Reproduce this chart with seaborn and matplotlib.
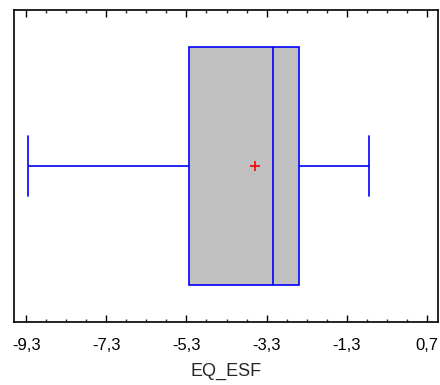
import numpy as np
import matplotlib
matplotlib.use("Agg")
import matplotlib.pyplot as plt
import seaborn as sns
from matplotlib.ticker import FixedLocator, FuncFormatter

# five-number summary (whisker ends, quartiles, median)
summary = [-9.26, -5.24, -3.13, -2.49, -0.75]
mean_val = -3.59
var_name = "EQ_ESF"
major_ticks = [-9.3, -7.3, -5.3, -3.3, -1.3, 0.7]

sns.set_style("ticks")
plt.rcParams['font.family'] = ['Liberation Sans', 'DejaVu Sans']

fig = plt.figure(figsize=(4.4, 3.85), dpi=100)
ax = fig.add_axes([0.032, 0.164, 0.963, 0.81])

blue = "#0000FF"
sns.boxplot(x=summary, ax=ax, whis=(0, 100), width=0.762, color="#C0C0C0",
            linecolor=blue, linewidth=1.2, fill=True, saturation=1,
            capwidths=0.19)
for p in ax.patches:
    p.set_facecolor("#C0C0C0")
    p.set_edgecolor(blue)

# mean marker
ax.plot([mean_val], [0], marker="+", color="red", markersize=7, mew=1.2)

ax.set_xlim(-9.6, 0.97)
ax.set_ylim(0.5, -0.5)
ax.xaxis.set_major_locator(FixedLocator(major_ticks))
ax.xaxis.set_minor_locator(FixedLocator(np.round(np.arange(-9.3, 0.75, 0.5), 2)))
ax.xaxis.set_major_formatter(FuncFormatter(lambda v, p: f"{v:.1f}".replace(".", ",")))
ax.tick_params(axis="x", which="major", direction="in", length=5, width=1,
               top=True, bottom=True, labelsize=12, pad=11.5, colors="black")
ax.tick_params(axis="x", which="minor", direction="in", length=2.5, width=1,
               top=True, bottom=True)
ax.tick_params(axis="y", left=False, labelleft=False)
ax.set_yticks([])
ax.set_xlabel(var_name, fontsize=13, labelpad=7)
for s in ax.spines.values():
    s.set_visible(True)
    s.set_color("black")
    s.set_linewidth(1.2)

fig.savefig("out.png", dpi=100)
